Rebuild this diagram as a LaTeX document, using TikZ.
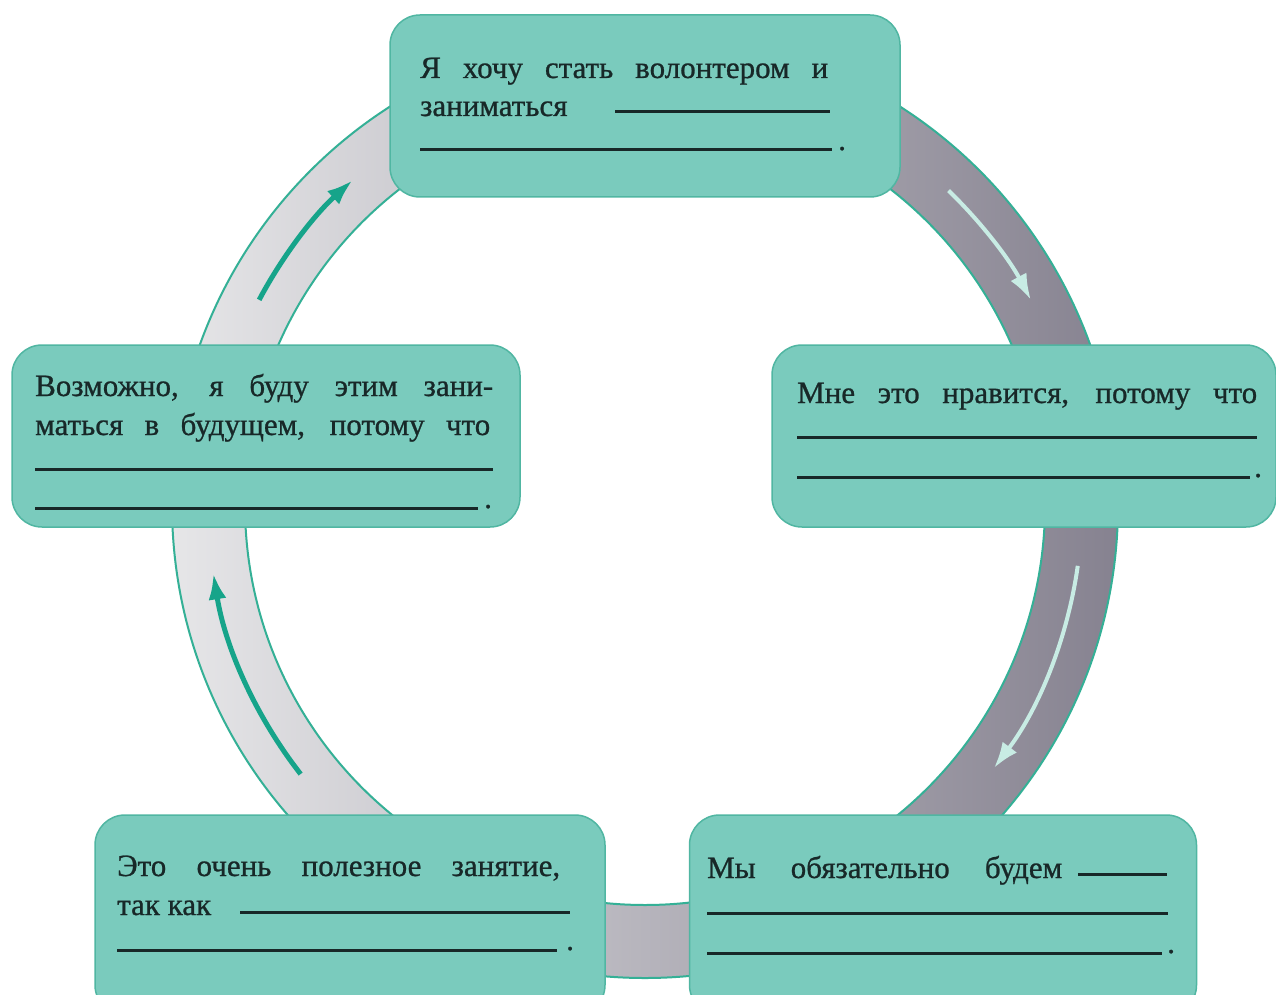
\documentclass[tikz,border=0pt]{standalone}
\usepackage{fontspec}
\setmainfont{Liberation Serif}[FakeBold=0.8]
\usetikzlibrary{arrows.meta}
\definecolor{boxfill}{RGB}{122,203,189}
\definecolor{boxline}{RGB}{80,182,162}
\definecolor{ink}{RGB}{24,40,40}
\definecolor{ringlight}{RGB}{230,230,232}
\definecolor{ringdark}{RGB}{134,130,144}
\definecolor{ringline}{RGB}{52,176,150}
\definecolor{arrowteal}{RGB}{22,164,138}
\definecolor{arrowpale}{RGB}{200,236,228}
\begin{document}
\begin{tikzpicture}[x=1pt,y=-1pt,
  card/.style={draw=boxline,line width=1.5pt,fill=boxfill,rounded corners=30pt,inner sep=0pt},
  words/.style={anchor=base west,inner sep=0pt,text=ink,font=\fontsize{31}{38}\selectfont},
  blank/.style={draw=ink,line width=3pt},
  flow/.style={line width=5pt,-{Latex[length=26pt,width=18pt]}}]
\useasboundingbox (0,0) rectangle (1276,995);
\fill[white] (0,0) rectangle (1276,995);
\shade[even odd rule,left color=ringlight,right color=ringdark] (645,505) circle (473) (645,505) circle (400);
\draw[ringline,line width=2pt] (645,505) circle (473) (645,505) circle (400);
\draw[flow,arrowteal] (645,505) ++(142:437) arc[start angle=142,end angle=171,radius=437];
\draw[flow,arrowteal] (645,505) ++(-152:437) arc[start angle=-152,end angle=-132,radius=437];
\draw[flow,arrowpale,line width=4pt] (645,505) ++(-46:437) arc[start angle=-46,end angle=-28,radius=437];
\draw[flow,arrowpale,line width=4pt] (645,505) ++(8:437) arc[start angle=8,end angle=37,radius=437];
\node[card,minimum width=510pt,minimum height=182pt] (wish) at (645,106) {};
\node[card,minimum width=504pt,minimum height=182pt] (like) at (1024,436) {};
\node[card,minimum width=508pt,minimum height=182pt] (future) at (266,436) {};
\node[card,minimum width=510pt,minimum height=200pt] (useful) at (350,915) {};
\node[card,minimum width=507pt,minimum height=200pt] (will) at (943,915) {};
\node[words] (wish1) at (420,78) {\makebox[408pt][s]{Я хочу стать волонтером и}};
\node[words] (wish2) at (420,116) {заниматься};
\draw[blank] (615,112) -- (830,112);
\draw[blank] (420,150) -- (832,150);
\node[words] (wishdot) at (838,150) {.};
\node[words] (like1) at (797,403) {\makebox[460pt][s]{Мне это нравится, потому что}};
\draw[blank] (797,437) -- (1257,437);
\draw[blank] (797,477) -- (1250,477);
\node[words] (likedot) at (1254,477) {.};
\node[words] (future1) at (35,396) {\makebox[458pt][s]{Возможно, я буду этим зани-}};
\node[words] (future2) at (35,435) {\makebox[455pt][s]{маться в будущем, потому что}};
\draw[blank] (35,469) -- (493,469);
\draw[blank] (35,508) -- (478,508);
\node[words] (futuredot) at (484,508) {.};
\node[words] (useful1) at (117,876) {\makebox[443pt][s]{Это очень полезное занятие,}};
\node[words] (useful2) at (117,915) {так как};
\draw[blank] (240,912) -- (570,912);
\draw[blank] (117,950) -- (557,950);
\node[words] (usefuldot) at (566,950) {.};
\node[words] (will1) at (707,878) {\makebox[355pt][s]{Мы обязательно будем}};
\draw[blank] (1078,874) -- (1167,874);
\draw[blank] (707,913) -- (1168,913);
\draw[blank] (707,953) -- (1162,953);
\node[words] (willdot) at (1167,953) {.};
\end{tikzpicture}
\end{document}
